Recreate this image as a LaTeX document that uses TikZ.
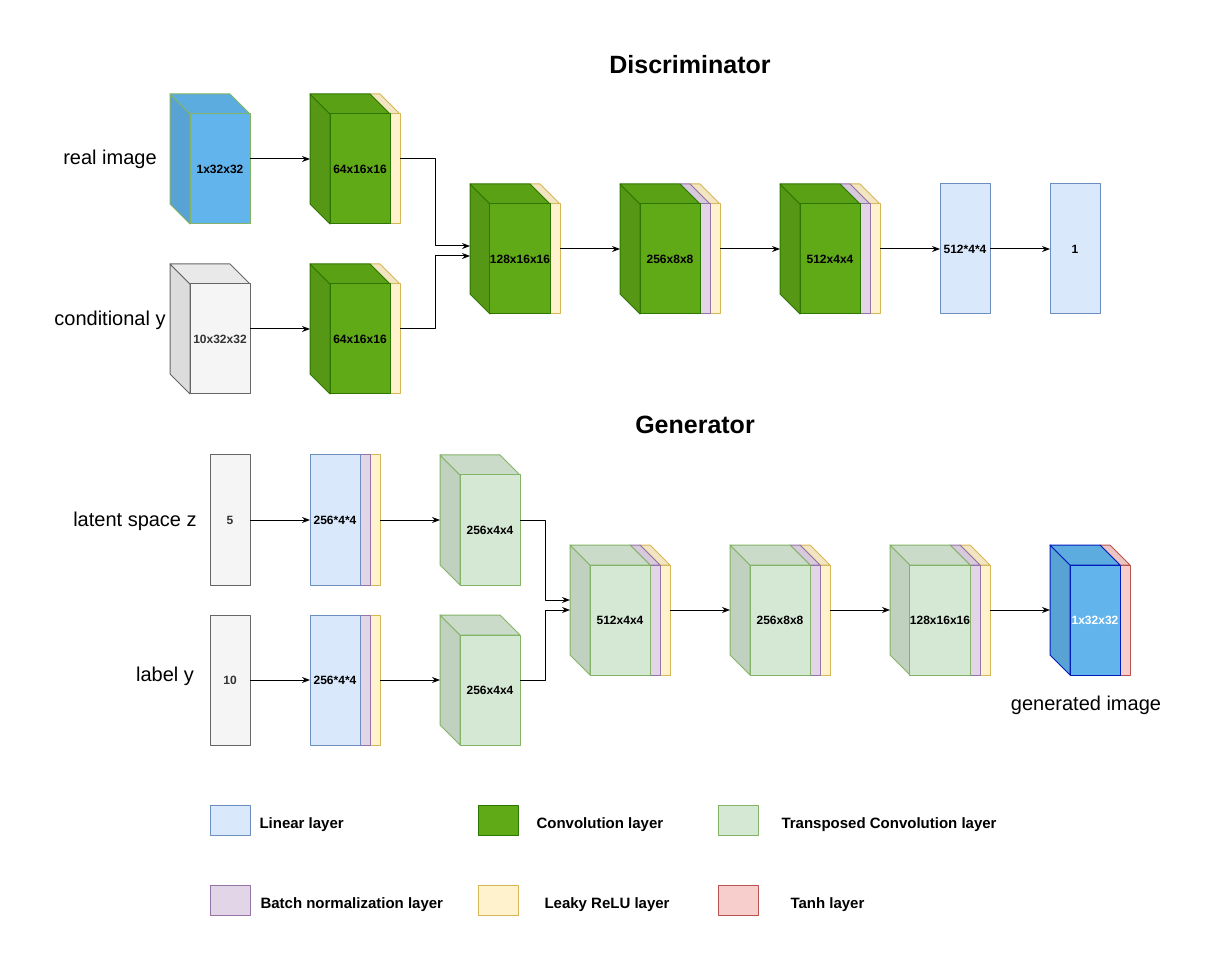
\documentclass[tikz,border=0pt]{standalone}
\usepackage{fontspec}
\setmainfont{Liberation Sans}
\usetikzlibrary{arrows.meta}
\definecolor{cblue}{HTML}{62B5EC}
\definecolor{cgreen}{HTML}{60A917}
\definecolor{cgreend}{HTML}{2D7600}
\definecolor{ctc}{HTML}{D5E8D4}
\definecolor{ctcd}{HTML}{82B366}
\definecolor{cgray}{HTML}{F5F5F5}
\definecolor{cgrayd}{HTML}{666666}
\definecolor{clin}{HTML}{DAE8FC}
\definecolor{clind}{HTML}{6C8EBF}
\definecolor{cbn}{HTML}{E1D5E7}
\definecolor{cbnd}{HTML}{9673A6}
\definecolor{cyel}{HTML}{FFF2CC}
\definecolor{cyeld}{HTML}{D6B656}
\definecolor{cred}{HTML}{F8CECC}
\definecolor{credd}{HTML}{B85450}
\definecolor{cgenb}{HTML}{001DBC}
\definecolor{ctext}{HTML}{333333}
\newcommand\Cub[9]{%
  \filldraw[fill=#6!90!black,draw=#7] ({#2-20},{#3-20}) -- (#2,#3) -- (#2,{#3+#5}) -- ({#2-20},{#3+#5-20}) -- cycle;
  \filldraw[fill=#6!95!black,draw=#7] ({#2-20},{#3-20}) -- ({#2+#4-20},{#3-20}) -- ({#2+#4},#3) -- (#2,#3) -- cycle;
  \node[face,fill=#6,draw=#7,minimum width={#4*1pt},minimum height={#5*1pt},text=#9] (#1) at ({#2+#4/2},{#3+#5/2}) {#8};}
\newcommand\Thin[6]{%
  \filldraw[fill=#5!95!black,draw=#6] ({#1-20},{#2-20}) -- ({#1+#3-20},{#2-20}) -- ({#1+#3},#2) -- (#1,#2) -- cycle;
  \filldraw[fill=#5,draw=#6] (#1,#2) rectangle ({#1+#3},{#2+#4});}
\newcommand\BB[5]{\node[bb,minimum width={(#4-#2)*1pt},minimum height={(#5-#3)*1pt}] (#1) at ({(#2+#4)/2},{(#3+#5)/2}) {};}
\begin{document}
\begin{tikzpicture}[x=1pt,y=-1pt,line width=1pt,line join=round,
  face/.style={inner sep=0pt,outer sep=0pt,font=\fontsize{12}{14}\selectfont\bfseries},
  bb/.style={inner sep=0pt,outer sep=0pt,draw=none},
  arr/.style={-{Stealth[length=8pt,width=6pt]},black},
  side/.style={font=\fontsize{20}{24}\selectfont},
  title/.style={font=\fontsize{25}{30}\selectfont\bfseries},
  legbox/.style={minimum width=40pt,minimum height=30pt,inner sep=0pt},
  legtxt/.style={anchor=west,inner sep=0pt,font=\fontsize{15}{18}\selectfont\bfseries}]
\useasboundingbox (0,0) rectangle (1216,965);
% ---------- Discriminator ----------
\node[title] (tD) at (690,65) {Discriminator};
\node[side] (lreal) at (110,159) {real image};
\node[side] (lcond) at (110,320) {conditional y};
\Cub{real}{190}{114}{60}{110}{cblue}{ctcd}{1x32x32}{black}
\BB{realB}{170}{94}{250}{224}
\Cub{cond}{190}{284}{60}{110}{cgray}{cgrayd}{10x32x32}{ctext}
\BB{condB}{170}{264}{250}{394}
\Thin{390}{114}{10}{110}{cyel}{cyeld}
\Cub{c1a}{330}{114}{60}{110}{cgreen}{cgreend}{64x16x16}{black}
\BB{c1aB}{310}{94}{400}{224}
\Thin{390}{284}{10}{110}{cyel}{cyeld}
\Cub{c1b}{330}{284}{60}{110}{cgreen}{cgreend}{64x16x16}{black}
\BB{c1bB}{310}{264}{400}{394}
\Thin{550}{204}{10}{110}{cyel}{cyeld}
\Cub{c2}{490}{204}{60}{110}{cgreen}{cgreend}{128x16x16}{black}
\BB{c2B}{470}{184}{560}{314}
\Thin{710}{204}{10}{110}{cyel}{cyeld}
\Thin{700}{204}{10}{110}{cbn}{cbnd}
\Cub{c3}{640}{204}{60}{110}{cgreen}{cgreend}{256x8x8}{black}
\BB{c3B}{620}{184}{720}{314}
\Thin{870}{204}{10}{110}{cyel}{cyeld}
\Thin{860}{204}{10}{110}{cbn}{cbnd}
\Cub{c4}{800}{204}{60}{110}{cgreen}{cgreend}{512x4x4}{black}
\BB{c4B}{780}{184}{880}{314}
\node[face,fill=clin,draw=clind,minimum width=50pt,minimum height=130pt] (lin) at (965,249) {512*4*4};
\node[face,fill=clin,draw=clind,minimum width=50pt,minimum height=130pt] (dout) at (1075,249) {1};
\draw[arr] (realB.east) -- (c1aB.west);
\draw[arr] (condB.east) -- (c1bB.west);
\draw[arr] (c1aB.east) -- ++(35,0) |- ([yshift=3pt]c2B.west);
\draw[arr] (c1bB.east) -- ++(35,0) |- ([yshift=-7pt]c2B.west);
\draw[arr] (c2B.east) -- (c3B.west);
\draw[arr] (c3B.east) -- (c4B.west);
\draw[arr] (c4B.east) -- (lin.west);
\draw[arr] (lin.east) -- (dout.west);
% ---------- Generator ----------
\node[title] (tG) at (695,425) {Generator};
\node[side] (lz) at (135,521) {latent space z};
\node[side] (ly) at (165,676) {label y};
\node[side] (lgen) at (1086,705) {generated image};
\node[face,fill=cgray,draw=cgrayd,minimum width=40pt,minimum height=130pt,text=ctext] (z) at (230,520) {5};
\node[face,fill=cgray,draw=cgrayd,minimum width=40pt,minimum height=130pt,text=ctext] (y) at (230,680) {10};
\filldraw[fill=cyel,draw=cyeld] (370,455) rectangle (380,585);
\filldraw[fill=cbn,draw=cbnd] (360,455) rectangle (370,585);
\node[face,fill=clin,draw=clind,minimum width=50pt,minimum height=130pt] (l1) at (335,520) {256*4*4};
\BB{l1B}{310}{455}{380}{585}
\filldraw[fill=cyel,draw=cyeld] (370,615) rectangle (380,745);
\filldraw[fill=cbn,draw=cbnd] (360,615) rectangle (370,745);
\node[face,fill=clin,draw=clind,minimum width=50pt,minimum height=130pt] (l2) at (335,680) {256*4*4};
\BB{l2B}{310}{615}{380}{745}
\Cub{t1}{460}{475}{60}{110}{ctc}{ctcd}{256x4x4}{black}
\BB{t1B}{440}{455}{520}{585}
\Cub{t2}{460}{635}{60}{110}{ctc}{ctcd}{256x4x4}{black}
\BB{t2B}{440}{615}{520}{745}
\Thin{660}{565}{10}{110}{cyel}{cyeld}
\Thin{650}{565}{10}{110}{cbn}{cbnd}
\Cub{t3}{590}{565}{60}{110}{ctc}{ctcd}{512x4x4}{black}
\BB{t3B}{570}{545}{670}{675}
\Thin{820}{565}{10}{110}{cyel}{cyeld}
\Thin{810}{565}{10}{110}{cbn}{cbnd}
\Cub{t4}{750}{565}{60}{110}{ctc}{ctcd}{256x8x8}{black}
\BB{t4B}{730}{545}{830}{675}
\Thin{980}{565}{10}{110}{cyel}{cyeld}
\Thin{970}{565}{10}{110}{cbn}{cbnd}
\Cub{t5}{910}{565}{60}{110}{ctc}{ctcd}{128x16x16}{black}
\BB{t5B}{890}{545}{990}{675}
\Thin{1120}{565}{10}{110}{cred}{credd}
\Cub{g}{1070}{565}{50}{110}{cblue}{cgenb}{1x32x32}{white}
\BB{gB}{1050}{545}{1130}{675}
\draw[arr] (z.east) -- (l1B.west);
\draw[arr] (l1B.east) -- (t1B.west);
\draw[arr] (y.east) -- (l2B.west);
\draw[arr] (l2B.east) -- (t2B.west);
\draw[arr] (t1B.east) -- ++(25,0) |- ([yshift=10pt]t3B.west);
\draw[arr] (t2B.east) -- ++(25,0) |- (t3B.west);
\draw[arr] (t3B.east) -- (t4B.west);
\draw[arr] (t4B.east) -- (t5B.west);
\draw[arr] (t5B.east) -- (gB.west);
% ---------- Legend ----------
\node[legbox,fill=clin,draw=clind] (k1) at (230,820) {};
\node[legtxt] (k1t) at (259,825) {Linear layer};
\node[legbox,fill=cgreen,draw=cgreend] (k2) at (498,820) {};
\node[legtxt] (k2t) at (536,825) {Convolution layer};
\node[legbox,fill=ctc,draw=ctcd] (k3) at (738,820) {};
\node[legtxt] (k3t) at (781,825) {Transposed Convolution layer};
\node[legbox,fill=cbn,draw=cbnd] (k4) at (230,900) {};
\node[legtxt] (k4t) at (260,905) {Batch normalization layer};
\node[legbox,fill=cyel,draw=cyeld] (k5) at (498,900) {};
\node[legtxt] (k5t) at (544,905) {Leaky ReLU layer};
\node[legbox,fill=cred,draw=credd] (k6) at (738,900) {};
\node[legtxt] (k6t) at (790,905) {Tanh layer};
\end{tikzpicture}
\end{document}
